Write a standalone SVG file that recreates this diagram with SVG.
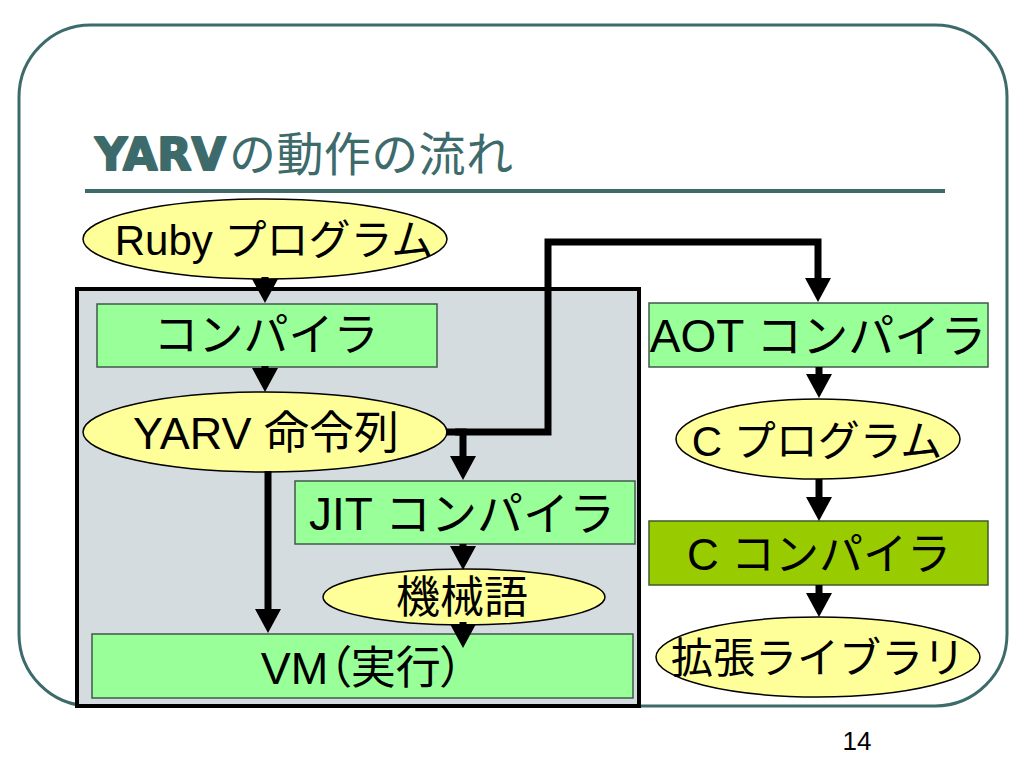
<svg xmlns="http://www.w3.org/2000/svg" width="1024" height="768" viewBox="0 0 1024 768">
<defs>
<style>
.t{font-family:"Liberation Sans","Noto Sans CJK JP",sans-serif;fill:#000;text-anchor:middle}
.box{fill:#99ff99;stroke:#3f5a4a;stroke-width:1.5}
.ell{fill:#ffff99;stroke:#000;stroke-width:1.5}
.con{fill:none;stroke:#000;stroke-width:7;stroke-linejoin:miter}
</style>
<marker id="ah" markerUnits="userSpaceOnUse" markerWidth="24" markerHeight="26" viewBox="0 -13 24 26" refX="0" refY="0" orient="auto" overflow="visible">
<path d="M0,-13 L24,0 L0,13 z" fill="#000"/>
</marker>
</defs>
<rect width="1024" height="768" fill="#fff"/>
<g id="frame">
<rect x="19" y="25" width="988" height="681" rx="72" ry="72" fill="#fff" stroke="#3d6b6b" stroke-width="3"/>
</g>
<g id="title">
<text x="95" y="170" font-family="DejaVu Sans,sans-serif" font-weight="bold" font-size="45" fill="#3d6b6b" stroke="#3d6b6b" stroke-width="2" stroke-linejoin="round" textLength="131" lengthAdjust="spacingAndGlyphs">YARV</text>
<text x="229" y="171" font-family="Noto Sans CJK JP,sans-serif" font-size="47" fill="#3d6b6b" textLength="284">の動作の流れ</text>
<line x1="85" y1="191" x2="945" y2="191" stroke="#3d6b6b" stroke-width="4"/>
</g>
<g id="ruby-program">
<ellipse class="ell" cx="265" cy="239" rx="182" ry="40"/>
<text class="t" x="274" y="255" font-size="42">Ruby プログラム</text>
</g>
<g id="yarv-container">
<rect x="77" y="289" width="562" height="417" fill="#d5dce0" stroke="#000" stroke-width="4"/>
</g>
<g id="compiler">
<rect class="box" x="97" y="304" width="340" height="63"/>
<text class="t" x="266" y="351" font-size="45">コンパイラ</text>
</g>
<g id="yarv-insn">
<ellipse class="ell" cx="265" cy="432" rx="182" ry="40"/>
<text class="t" x="266" y="449" font-size="45">YARV 命令列</text>
</g>
<g id="jit-compiler">
<rect class="box" x="295" y="481" width="340" height="63"/>
<text class="t" x="462" y="530" font-size="46">JIT コンパイラ</text>
</g>
<g id="machine-code">
<ellipse class="ell" cx="464" cy="597" rx="141" ry="28"/>
<text class="t" x="462" y="613" font-size="44">機械語</text>
</g>
<g id="vm">
<rect class="box" x="92" y="634" width="541" height="64"/>
<text class="t" x="362" y="684" font-size="45" style="font-feature-settings:'palt'">VM（実行）</text>
</g>
<g id="aot-compiler">
<rect class="box" x="649" y="303" width="339" height="64"/>
<text class="t" x="818" y="352" font-size="46">AOT コンパイラ</text>
</g>
<g id="c-program">
<ellipse class="ell" cx="818" cy="439" rx="142" ry="40"/>
<text class="t" x="817" y="456" font-size="42">C プログラム</text>
</g>
<g id="c-compiler">
<rect x="649" y="521" width="339" height="64" fill="#99cc00" stroke="#3f5a2a" stroke-width="1.5"/>
<text class="t" x="819" y="570" font-size="44">C コンパイラ</text>
</g>
<g id="ext-library">
<ellipse class="ell" cx="818" cy="657" rx="162" ry="40"/>
<text class="t" x="818" y="673" font-size="42">拡張ライブラリ</text>
</g>
<g id="connectors">
<path class="con" d="M265,277 L265,279" marker-end="url(#ah)"/>
<path class="con" d="M265,366 L265,368" marker-end="url(#ah)"/>
<path class="con" d="M268,471 L268,609" marker-end="url(#ah)"/>
<path class="con" d="M446,432 L463,432 L463,456" marker-end="url(#ah)"/>
<path class="con" d="M455,432 L548,432 L548,242 L818,242 L818,278" marker-end="url(#ah)"/>
<path class="con" d="M463,544 L463,546" marker-end="url(#ah)"/>
<path class="con" d="M463,622 L463,624" marker-end="url(#ah)"/>
<path class="con" d="M819,367 L819,374" marker-end="url(#ah)"/>
<path class="con" d="M819,479 L819,497" marker-end="url(#ah)"/>
<path class="con" d="M819,585 L819,593" marker-end="url(#ah)"/>
</g>
<text x="857" y="750" font-family="Liberation Sans,sans-serif" font-size="26" text-anchor="middle" fill="#000">14</text>
</svg>
